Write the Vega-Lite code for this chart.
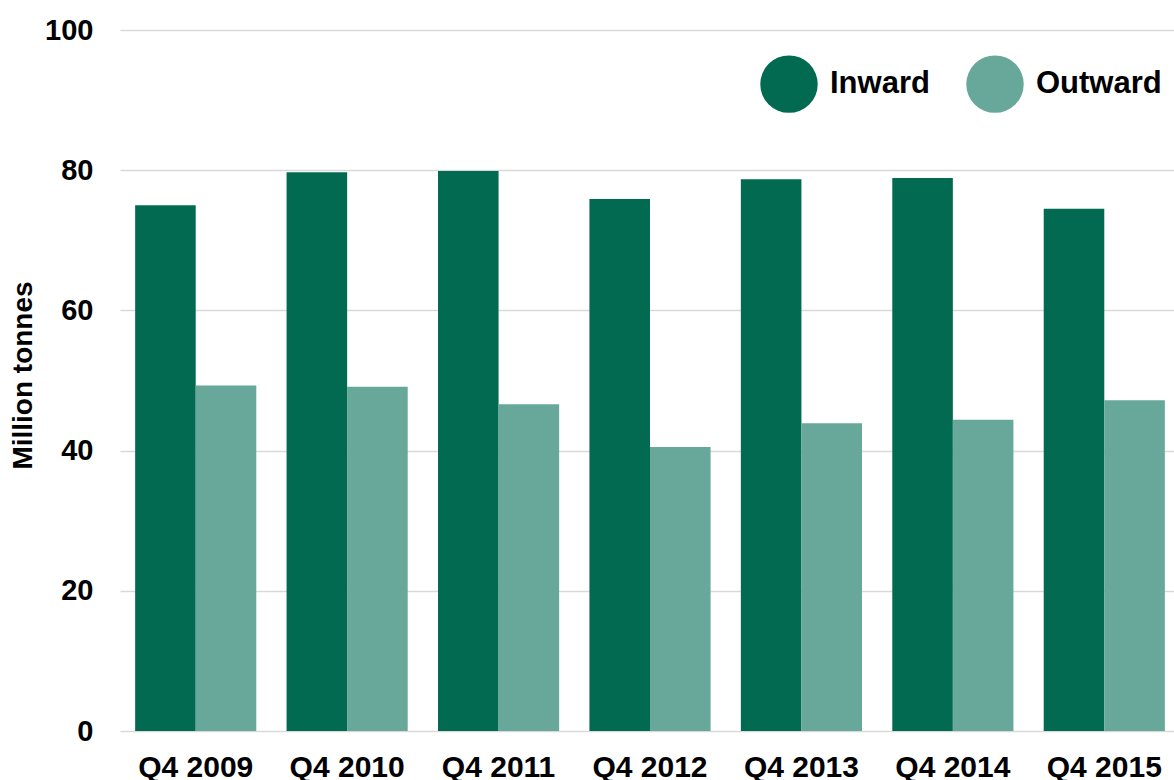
{
  "$schema": "https://vega.github.io/schema/vega-lite/v6.json",
  "width": 1060,
  "height": 701,
  "autosize": "none",
  "padding": {"left": 120, "top": 30, "right": 0, "bottom": 49},
  "background": "white",
  "config": {
    "view": {"stroke": null},
    "font": "Liberation Sans"
  },
  "data": {
    "values": [
      {"quarter": "Q4 2009", "direction": "Inward", "value": 75.0},
      {"quarter": "Q4 2009", "direction": "Outward", "value": 49.3},
      {"quarter": "Q4 2010", "direction": "Inward", "value": 79.7},
      {"quarter": "Q4 2010", "direction": "Outward", "value": 49.1},
      {"quarter": "Q4 2011", "direction": "Inward", "value": 79.9},
      {"quarter": "Q4 2011", "direction": "Outward", "value": 46.6},
      {"quarter": "Q4 2012", "direction": "Inward", "value": 75.9},
      {"quarter": "Q4 2012", "direction": "Outward", "value": 40.5},
      {"quarter": "Q4 2013", "direction": "Inward", "value": 78.7},
      {"quarter": "Q4 2013", "direction": "Outward", "value": 43.9},
      {"quarter": "Q4 2014", "direction": "Inward", "value": 78.9},
      {"quarter": "Q4 2014", "direction": "Outward", "value": 44.4},
      {"quarter": "Q4 2015", "direction": "Inward", "value": 74.5},
      {"quarter": "Q4 2015", "direction": "Outward", "value": 47.2}
    ]
  },
  "mark": {"type": "bar"},
  "encoding": {
    "x": {
      "field": "quarter",
      "type": "nominal",
      "scale": {"paddingInner": 0.2, "paddingOuter": 0.1},
      "axis": {
        "title": null,
        "labelAngle": 0,
        "labelFont": "Liberation Sans",
        "labelFontWeight": "bold",
        "labelFontSize": 30,
        "labelColor": "black",
        "labelPadding": 21,
        "ticks": false,
        "domain": false
      }
    },
    "xOffset": {"field": "direction", "type": "nominal"},
    "y": {
      "field": "value",
      "type": "quantitative",
      "scale": {"domain": [0, 100], "nice": false},
      "axis": {
        "title": "Million tonnes",
        "titleFont": "Liberation Sans",
        "titleFontWeight": "bold",
        "titleFontSize": 28,
        "titleColor": "black",
        "titleAngle": -90,
        "titleX": -97,
        "titleY": 345,
        "titleAlign": "center",
        "titleBaseline": "middle",
        "values": [0, 20, 40, 60, 80, 100],
        "labelFont": "Liberation Sans",
        "labelFontWeight": "bold",
        "labelFontSize": 29,
        "labelColor": "black",
        "labelPadding": 27,
        "ticks": false,
        "domain": false,
        "grid": true,
        "gridColor": "#d9d9d9",
        "gridWidth": 1.5
      }
    },
    "color": {
      "field": "direction",
      "type": "nominal",
      "scale": {"domain": ["Inward", "Outward"], "range": ["#036a52", "#67a89a"]},
      "legend": {
        "title": null,
        "orient": "none",
        "legendX": 640,
        "legendY": 25,
        "direction": "horizontal",
        "columns": 2,
        "symbolType": "circle",
        "symbolSize": 3300,
        "symbolStrokeWidth": 0,
        "labelFont": "Liberation Sans",
        "labelFontWeight": "bold",
        "labelFontSize": 31,
        "labelColor": "black",
        "labelOffset": 12,
        "columnPadding": 36,
        "labelLimit": 300
      }
    }
  }
}
